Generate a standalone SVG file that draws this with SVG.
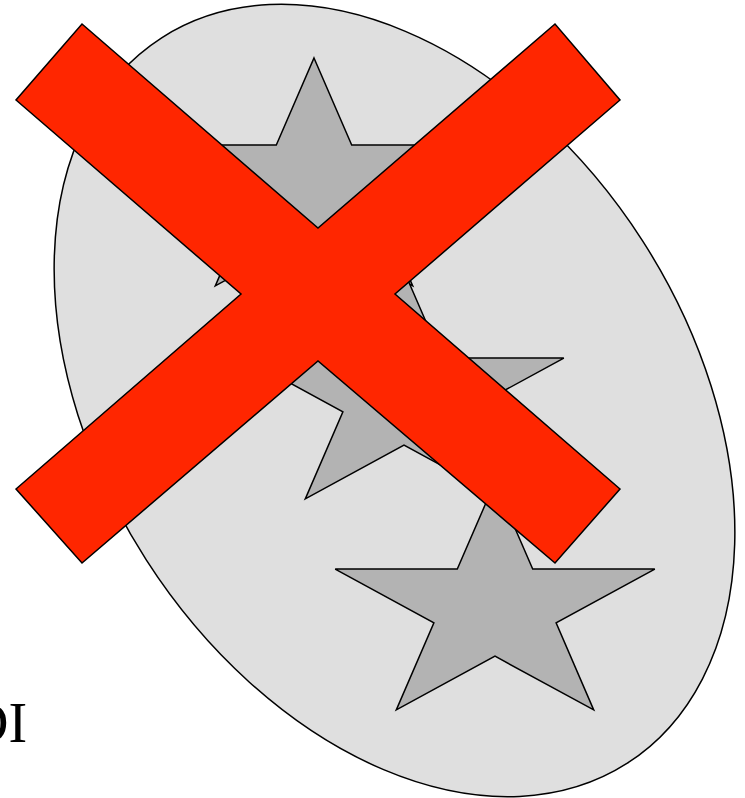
<svg xmlns="http://www.w3.org/2000/svg" xmlns:xlink="http://www.w3.org/1999/xlink" width="745" height="798" viewBox="0 0 745 798">
<style>
.oval{fill:#dfdfdf;stroke:#000;stroke-width:1.5}
.star{fill:#b3b3b3;stroke:#000;stroke-width:1.5;stroke-linejoin:miter}
.cross{fill:#ff2600;stroke:#000;stroke-width:1.5;stroke-linejoin:miter}
.lbl{font-family:"Liberation Serif","Times New Roman",serif;font-size:56px;fill:#000}
</style>
<defs>
<polygon id="starShape" points="0,-126 37.7,-38.9 159.8,-38.9 61.1,14.9 98.7,101.9 0,48.2 -98.7,101.9 -61.1,14.9 -159.8,-38.9 -37.7,-38.9"/>
</defs>
<rect width="745" height="798" fill="#fff"/>
<g id="oval">
<ellipse class="oval" cx="394.5" cy="400.5" rx="431" ry="295" transform="rotate(57.3 394.5 400.5)"/>
</g>
<g id="star1"><use xlink:href="#starShape" href="#starShape" class="star" transform="translate(314 184)"/></g>
<g id="star2"><use xlink:href="#starShape" href="#starShape" class="star" transform="translate(404 397)"/></g>
<g id="star3"><use xlink:href="#starShape" href="#starShape" class="star" transform="translate(495 608)"/></g>
<g id="cross">
<polygon class="cross" points="82,24 318,228 555,24 620,100 395,294 620,489 555,563 318,361 82,563 16,489 241,294 16,100"/>
</g>
<g id="label">
<text class="lbl" x="-32" y="742">DI</text>
</g>
</svg>
